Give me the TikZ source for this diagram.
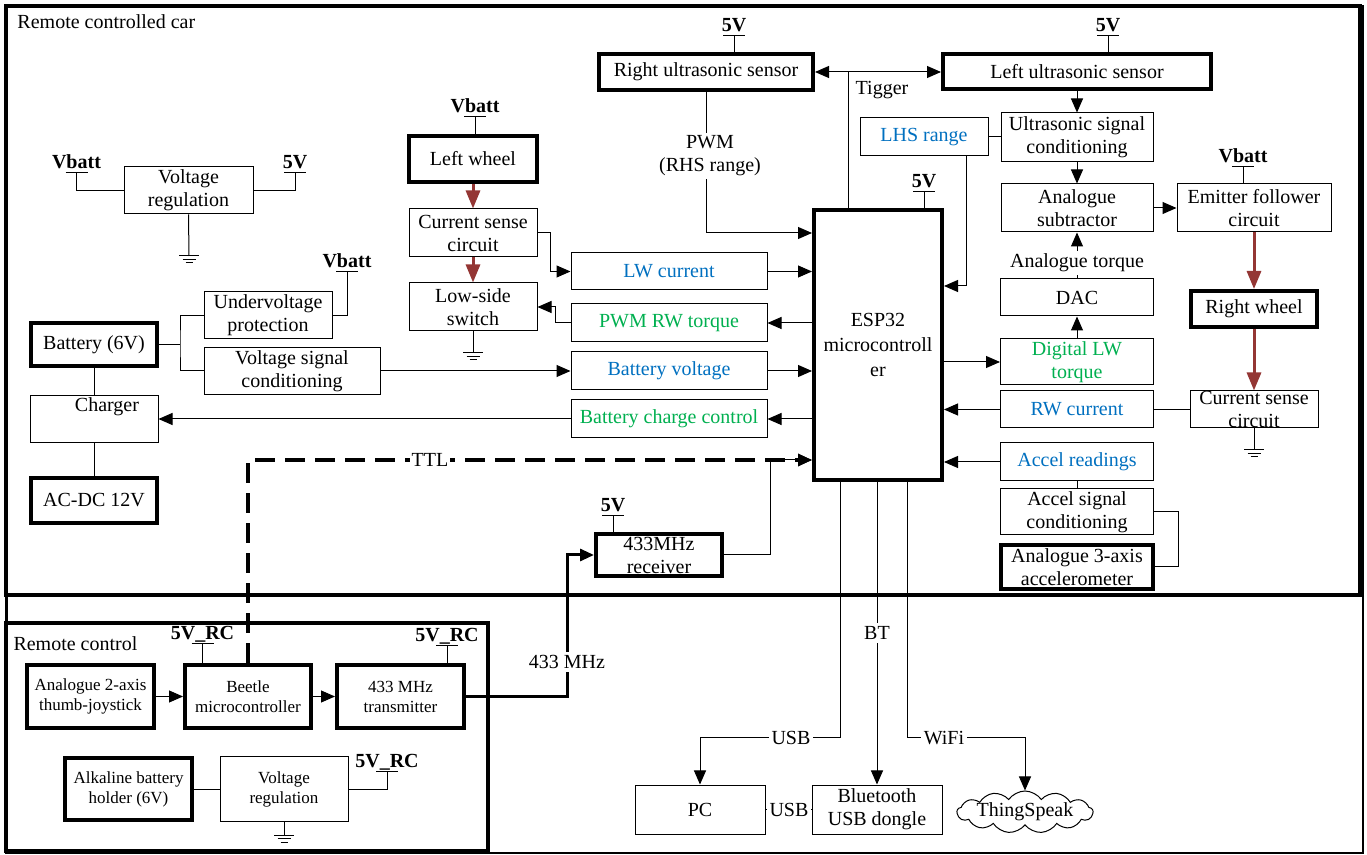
\documentclass[tikz,border=0pt]{standalone}
\usepackage{fontspec}
\setmainfont{Liberation Serif}
\usetikzlibrary{arrows.meta,shapes.symbols}
\definecolor{wheelred}{RGB}{148,54,52}
\definecolor{sigblue}{RGB}{0,112,192}
\definecolor{siggreen}{RGB}{0,176,80}
\begin{document}
\fontsize{10}{11.5}\selectfont
\begin{tikzpicture}[x=0.5pt,y=0.5pt,line width=0.5pt,>={Triangle[length=7pt,width=6pt]},
        supply/.pic={\draw (-11,0) -- (11,0); \node [font=\bfseries,anchor=base] at (0,4.5) {#1}; \coordinate (-t) at (0,0);},
        gnd/.pic={\draw (-10,0) -- (10,0) (-6.5,-3.5) -- (6.5,-3.5) (-3.5,-7) -- (3.5,-7); \coordinate (-t) at (0,0);}]
        \tikzstyle{every node}+=[inner sep=0pt]
        \tikzstyle{box}=[draw,align=center,line width=0.5pt]
        \tikzstyle{hbox}=[box,line width=2pt]
        \tikzstyle{rc}=[font=\fontsize{8.5}{10}\selectfont]
        \tikzstyle{lbl}=[fill=white,inner sep=1.5pt,align=center]
        \tikzstyle{power}=[wheelred,line width=1.5pt,-{Triangle[length=9pt,width=7pt]}]
        \tikzstyle{ttl}=[line width=1.6pt,dash pattern=on 10pt off 5pt,->]
        \tikzstyle{rf}=[line width=1.5pt,->]
        \fill [white] (0,0) rectangle (1367,-855);
        \useasboundingbox (0,0) rectangle (1367,-855);
        \draw [line width=0.6pt] (6,-6) rectangle (1363,-853);
        \draw [line width=1.5pt] (6,-595) -- (6,-623);
        \draw [line width=2pt] (6,-6) rectangle (1360,-595);
        \draw [line width=2pt] (6,-623) rectangle (488,-851);
        \node [anchor=base west] (cartitle) at (17,-29) {Remote controlled car};
        \node [anchor=base west] (rctitle) at (13,-651) {Remote control};
        \node [box,minimum width=64.5pt,minimum height=23.5pt] (vrega) at (188.5,-190.5) {Voltage\\regulation};
        \pic (vba) at (76.5,-173) {supply=Vbatt};
        \pic (fva) at (295,-173) {supply=5V};
        \pic (gnda) at (189,-256) {gnd};
        \draw (vba-t) |- (vrega.west);
        \draw (fva-t) |- (vrega.east);
        \draw (vrega.south) -- (gnda-t);
        \node [hbox,minimum width=63.75pt,minimum height=23.25pt] (lwheel) at (473,-159) {Left wheel};
        \pic (vbl) at (475,-117) {supply=Vbatt};
        \draw (vbl-t) -- (vbl-t |- lwheel.north);
        \node [box,minimum width=64pt,minimum height=24pt] (csl) at (473,-233) {Current sense\\circuit};
        \node [box,minimum width=64pt,minimum height=24pt] (lss) at (473,-307) {Low-side\\switch};
        \pic (gndl) at (473,-353) {gnd};
        \draw [power] (lwheel) -- (csl);
        \draw [power] (csl) -- (lss);
        \draw (lss) -- (gndl-t);
        \node [hbox,minimum width=107pt,minimum height=18pt] (rus) at (706,-72) {Right ultrasonic sensor};
        \node [hbox,minimum width=134pt,minimum height=17.5pt] (lus) at (1077,-72) {Left ultrasonic sensor};
        \pic (fvr) at (734,-36) {supply=5V};
        \pic (fvl) at (1108,-36) {supply=5V};
        \draw (fvr-t) -- (fvr-t |- rus.north);
        \draw (fvl-t) -- (fvl-t |- lus.north);
        \node [hbox,minimum width=64pt,minimum height=135pt,font=\fontsize{10}{12.5}\selectfont] (esp) at (878,-345) {ESP32\\microcontroll\\er};
        \pic (fve) at (924,-192) {supply=5V};
        \draw (fve-t) -- (fve-t |- esp.north);
        \coordinate (trg) at (848,-72);
        \draw [->] (esp.north -| trg) -- (trg) -- (trg -| rus.east);
        \draw [->] (trg) -- (trg -| lus.west);
        \node (tig) at (882,-90) {Tigger};
        \draw [->] (rus.south) |- ([yshift=-12.5pt]esp.north west);
        \node [lbl] (pwml) at (710,-156) {PWM\\(RHS range)};
        \node [box,minimum width=98pt,minimum height=18.5pt,text=sigblue] (lwc) at (669,-271.5) {LW current};
        \draw [->] (csl.east) -- ++(13,0) |- (lwc.west);
        \draw [->] (lwc.east) -- (lwc.east -| esp.west);
        \node [box,minimum width=98pt,minimum height=19pt,text=siggreen] (pwmrw) at (669,-323) {PWM RW torque};
        \draw [->] (pwmrw.east -| esp.west) -- (pwmrw.east);
        \draw [->] (pwmrw.west) -- ++(-15,0) |- (lss.east);
        \node [box,minimum width=98pt,minimum height=19pt,text=sigblue] (batv) at (669,-371) {Battery voltage};
        \draw [->] (batv.east) -- (batv.east -| esp.west);
        \node [box,minimum width=98pt,minimum height=19pt,text=siggreen] (bcc) at (669,-419) {Battery charge control};
        \draw [->] (bcc.east -| esp.west) -- (bcc.east);
        \node [box,minimum width=64pt,minimum height=19pt,text=sigblue] (lhs) at (924,-137) {LHS range};
        \node [box,minimum width=76pt,minimum height=24.5pt] (usc) at (1077,-137.5) {Ultrasonic signal\\conditioning};
        \draw (lhs.east) -- (lhs.east -| usc.west);
        \draw [->] (lus) -- (usc);
        \draw [->] ([xshift=21pt]lhs.south) |- ([yshift=-39pt]esp.north east);
        \node [box,minimum width=76pt,minimum height=24pt] (asub) at (1077,-208) {Analogue\\subtractor};
        \node [box,minimum width=77pt,minimum height=24pt] (emf) at (1254,-208) {Emitter follower\\circuit};
        \pic (vbe) at (1243,-167) {supply=Vbatt};
        \draw (vbe-t) -- (vbe-t |- emf.north);
        \draw [->] (usc) -- (asub);
        \draw [->] (asub) -- (emf);
        \node [hbox,minimum width=63pt,minimum height=18pt] (rwheel) at (1254,-309) {Right wheel};
        \node [box,minimum width=64pt,minimum height=18.5pt] (csr) at (1254,-409.5) {Current sense\\circuit};
        \draw [power] (emf) -- (rwheel);
        \draw [power] (rwheel) -- (csr);
        \pic (gndr) at (1254,-450) {gnd};
        \draw (csr) -- (gndr-t);
        \node [box,minimum width=76.5pt,minimum height=18.5pt] (dac) at (1077,-297.5) {DAC};
        \node [box,minimum width=76.5pt,minimum height=23pt,text=siggreen] (dlw) at (1077,-362) {Digital LW\\torque};
        \draw [->] (dac) -- (asub);
        \node [lbl] (atq) at (1077,-263) {Analogue torque};
        \draw [->] (dlw) -- (dac);
        \draw [->] (dlw.west -| esp.east) -- (dlw.west);
        \node [box,minimum width=76.5pt,minimum height=18.5pt,text=sigblue] (rwc) at (1077,-409.5) {RW current};
        \draw (csr) -- (rwc);
        \draw [->] (rwc.west) -- (rwc.west -| esp.east);
        \node [box,minimum width=76.5pt,minimum height=19pt,text=sigblue] (accr) at (1077,-462) {Accel readings};
        \draw [->] (accr.west) -- (accr.west -| esp.east);
        \node [box,minimum width=76.5pt,minimum height=23pt] (acsc) at (1077,-512) {Accel signal\\conditioning};
        \node [hbox,minimum width=76pt,minimum height=22pt] (acc) at (1077,-567) {Analogue 3-axis\\accelerometer};
        \draw (accr) -- (acsc);
        \draw (acc.east) -- ++(23,0) |- (acsc.east);
        \node [hbox,minimum width=63pt,minimum height=21.5pt] (bat) at (94,-344.5) {Battery (6V)};
        \node [box,minimum width=64pt,minimum height=23.5pt] (uvp) at (268,-315.5) {Undervoltage\\protection};
        \pic (vbu) at (347,-272) {supply=Vbatt};
        \draw (vbu-t) |- (uvp.east);
        \node [box,minimum width=88pt,minimum height=23.5pt] (vsc) at (292,-371) {Voltage signal\\conditioning};
        \draw [->] (vsc.east) -- (batv.west);
        \draw (bat.east) -- ++(21,0) coordinate (batj);
        \draw (uvp.west) -| (batj) |- (vsc.west);
        \node [box,minimum width=64pt,minimum height=23.5pt] (chg) at (94,-419.5) {};
        \node [anchor=base] (chgt) at (107,-412) {Charger};
        \node [hbox,minimum width=63pt,minimum height=22.5pt] (acdc) at (94,-500.5) {AC-DC 12V};
        \draw (bat) -- (chg);
        \draw (chg) -- (acdc);
        \draw [->] (bcc.west) -- (bcc.west -| chg.east);
        \node [hbox,rc,minimum width=63.5pt,minimum height=31.5pt] (joy) at (90.5,-696.5) {Analogue 2-axis\\thumb-joystick};
        \node [hbox,rc,minimum width=63pt,minimum height=31.5pt] (btl) at (248,-696.5) {Beetle\\microcontroller};
        \node [hbox,rc,minimum width=63.5pt,minimum height=31.5pt] (tx) at (400.5,-696.5) {433 MHz\\transmitter};
        \node [hbox,rc,minimum width=63.5pt,minimum height=31pt] (alk) at (128.5,-789) {Alkaline battery\\holder (6V)};
        \node [box,rc,minimum width=64pt,minimum height=32.5pt] (vregb) at (284,-789) {Voltage\\regulation};
        \pic (rcb) at (202.5,-644) {supply=5V\_RC};
        \pic (rct) at (447,-646) {supply=5V\_RC};
        \pic (rcv) at (387,-772) {supply=5V\_RC};
        \pic (gndb) at (284,-835) {gnd};
        \draw (rcb-t) -- (rcb-t |- btl.north);
        \draw (rct-t) -- (rct-t |- tx.north);
        \draw (rcv-t) |- (vregb.east);
        \draw [->] (joy) -- (btl);
        \draw [->] (btl) -- (tx);
        \draw (alk) -- (vregb);
        \draw (vregb) -- (gndb-t);
        \node [hbox,minimum width=63pt,minimum height=21pt] (rx) at (659,-555) {433MHz\\receiver};
        \pic (fvx) at (613,-516) {supply=5V};
        \draw (fvx-t) -- (fvx-t |- rx.north);
        \coordinate (ttlin) at ([yshift=-126pt]esp.north west);
        \draw [ttl] (btl.north) |- (ttlin);
        \draw [->] (rx.east) -| ([xshift=-21pt]ttlin) -- (ttlin);
        \node [lbl,inner sep=0.8pt] (ttll) at (430,-460) {TTL};
        \draw [rf] (tx.east) -| ([xshift=-13.5pt]rx.west) -- (rx.west);
        \node [lbl] (rfl) at (567,-662) {433 MHz};
        \node [box,minimum width=65pt,minimum height=24.5pt] (pc) at (700,-809.5) {PC};
        \node [box,minimum width=65pt,minimum height=24.5pt] (btd) at (877,-809.5) {Bluetooth\\USB dongle};
        \node [cloud,draw,cloud puffs=13,cloud puff arc=110,cloud ignores aspect,minimum width=64pt,minimum height=20pt] (tsp) at (1025,-812) {ThingSpeak};
        \draw [->] ([xshift=14pt]esp.south west) -- ++(0,-256) -| (pc);
        \draw [->] (btd.north |- esp.south) -- (btd.north);
        \draw [->] ([xshift=47.75pt]esp.south west) -- ++(0,-256) -| (tsp);
        \draw (pc) -- (btd);
        \node [lbl] (usba) at (791,-738) {USB};
        \node [lbl] (bt) at (877,-633) {BT};
        \node [lbl] (wifi) at (944,-738) {WiFi};
        \node [lbl] (usbb) at (789,-810) {USB};
\end{tikzpicture}
\end{document}
